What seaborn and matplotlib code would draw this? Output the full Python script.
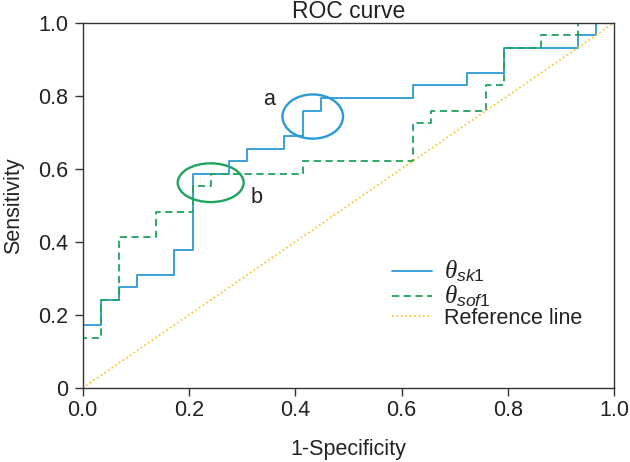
import pandas as pd
import matplotlib
matplotlib.use("Agg")
import matplotlib.pyplot as plt
from matplotlib.patches import Ellipse
import seaborn as sns

# ROC points (1-specificity, sensitivity)
sk1_fpr = [0.0, 0.0, 0.035, 0.069, 0.103, 0.172, 0.207, 0.276, 0.310, 0.379, 0.414, 0.448, 0.621, 0.724, 0.793, 0.931, 0.966, 1.0]
sk1_tpr = [0.0, 0.172, 0.241, 0.276, 0.310, 0.379, 0.586, 0.621, 0.655, 0.690, 0.759, 0.793, 0.828, 0.862, 0.931, 0.966, 1.0, 1.0]

sof1_fpr = [0.0, 0.0, 0.035, 0.069, 0.138, 0.207, 0.241, 0.414, 0.621, 0.655, 0.759, 0.793, 0.862, 0.931, 1.0]
sof1_tpr = [0.0, 0.138, 0.241, 0.414, 0.483, 0.552, 0.586, 0.621, 0.724, 0.759, 0.828, 0.931, 0.966, 1.0, 1.0]

ref_x = [0.0, 1.0]
ref_y = [0.0, 1.0]

x_ticks = [0.0, 0.2, 0.4, 0.6, 0.8, 1.0]
x_ticklabels = ["0.0", "0.2", "0.4", "0.6", "0.8", "1.0"]
y_ticks = [0.0, 0.2, 0.4, 0.6, 0.8, 1.0]
y_ticklabels = ["0", "0.2", "0.4", "0.6", "0.8", "1.0"]

blue = "#2a9ad6"
green = "#1ea35a"
yellow = "#f5c31c"
fs = 15.5

sns.set_style("ticks")
plt.rcParams["font.family"] = ["Liberation Sans", "DejaVu Sans"]
plt.rcParams["mathtext.fontset"] = "custom"
plt.rcParams["mathtext.it"] = "Liberation Serif:italic"
plt.rcParams["mathtext.sf"] = "Liberation Sans:italic"
plt.rcParams["mathtext.rm"] = "Liberation Sans"

sk1 = pd.DataFrame({"fpr": sk1_fpr, "tpr": sk1_tpr})
sof1 = pd.DataFrame({"fpr": sof1_fpr, "tpr": sof1_tpr})
ref = pd.DataFrame({"fpr": ref_x, "tpr": ref_y})

fig = plt.figure(figsize=(6.3, 4.62), dpi=100)
ax = fig.add_axes([0.131, 0.160, 0.844, 0.791])

sns.lineplot(data=sk1, x="fpr", y="tpr", ax=ax, sort=False, estimator=None,
             drawstyle="steps-post", color=blue, linewidth=1.3,
             label=r"$\theta_{\mathsf{sk}1}$")
sns.lineplot(data=sof1, x="fpr", y="tpr", ax=ax, sort=False, estimator=None,
             drawstyle="steps-post", color=green, linewidth=1.3,
             label=r"$\theta_{\mathsf{sof}1}$")
ax.lines[-1].set_dashes([4.0, 2.5])
sns.lineplot(data=ref, x="fpr", y="tpr", ax=ax, sort=False, estimator=None,
             color=yellow, linewidth=1.2, label="Reference line")
ax.lines[-1].set_linestyle(":")

# highlight ellipses
ax.add_patch(Ellipse((0.433, 0.743), 0.114, 0.121, fill=False, edgecolor=blue, linewidth=1.7))
ax.add_patch(Ellipse((0.241, 0.562), 0.124, 0.106, fill=False, edgecolor=green, linewidth=1.7))
ax.text(0.351, 0.789, "a", fontsize=fs, ha="center", va="center", color="#222222")
ax.text(0.327, 0.522, "b", fontsize=fs, ha="center", va="center", color="#222222")

ax.set_xlim(0, 1)
ax.set_ylim(0, 1)
ax.set_xticks(x_ticks)
ax.set_xticklabels(x_ticklabels)
ax.set_yticks(y_ticks)
ax.set_yticklabels(y_ticklabels)
ax.tick_params(direction="out", length=5.5, width=1, labelsize=fs,
               colors="#333333", labelcolor="#222222")
ax.tick_params(axis="x", pad=3)
ax.tick_params(axis="y", pad=5)
for s in ax.spines.values():
    s.set_visible(True)
    s.set_color("#333333")
    s.set_linewidth(1.0)

ax.set_xlabel("1-Specificity", fontsize=fs, labelpad=13, color="#222222")
ax.set_ylabel("Sensitivity", fontsize=fs, labelpad=10, color="#222222")
ax.set_title("ROC curve", fontsize=16.5, pad=3, color="#222222")

leg = ax.legend(loc="upper left", bbox_to_anchor=(0.565, 0.378), frameon=False,
                fontsize=fs, handlelength=1.9, handletextpad=0.55,
                labelspacing=-0.05, borderaxespad=0)
for i, t in enumerate(leg.get_texts()):
    t.set_color("#222222")
    if i < 2:
        t.set_fontsize(18)

plt.savefig("out.png", dpi=100)
